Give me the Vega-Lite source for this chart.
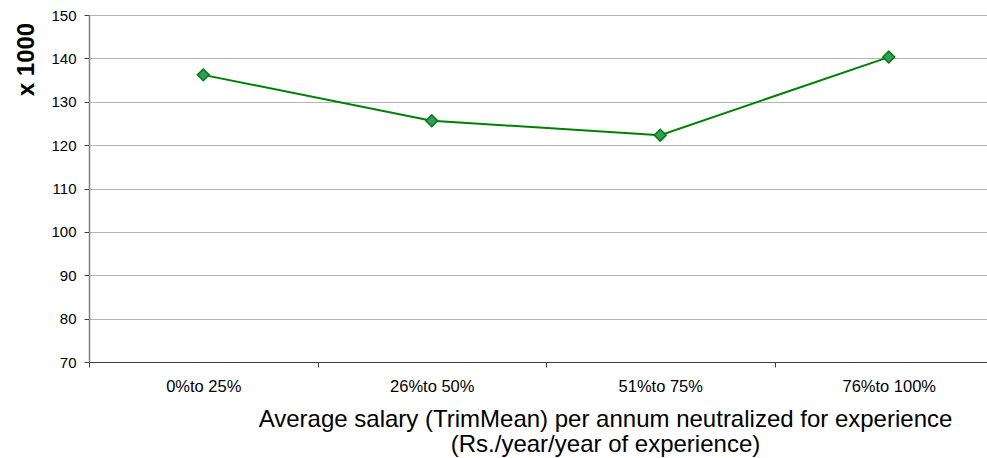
{
  "$schema": "https://vega.github.io/schema/vega-lite/v6.json",
  "width": 898,
  "height": 347,
  "autosize": {"type": "none"},
  "padding": {"left": 89, "top": 15, "right": 0, "bottom": 96},
  "background": "white",
  "config": {
    "view": {"stroke": null},
    "font": "Liberation Sans"
  },
  "data": {
    "values": [
      {"group": "0%to 25%", "salary": 136.2},
      {"group": "26%to 50%", "salary": 125.6},
      {"group": "51%to 75%", "salary": 122.3},
      {"group": "76%to 100%", "salary": 140.3}
    ]
  },
  "encoding": {
    "x": {
      "field": "group",
      "type": "nominal",
      "sort": null,
      "scale": {"type": "band", "range": [0, 914], "paddingInner": 0, "paddingOuter": 0},
      "axis": {
        "title": ["Average salary (TrimMean) per annum neutralized for experience", "(Rs./year/year of experience)"],
        "titleFont": "Liberation Sans",
        "titleFontSize": 24,
        "titleFontWeight": "normal",
        "titleColor": "#000000",
        "titleX": 516,
        "titleY": 64,
        "titleAlign": "center",
        "titleBaseline": "alphabetic",
        "titleLineHeight": 25,
        "labelAngle": 0,
        "labelFontSize": 16.5,
        "labelColor": "#000000",
        "labelPadding": 11,
        "tickBand": "extent",
        "tickSize": 5,
        "tickColor": "#404040",
        "domainColor": "#404040",
        "domainWidth": 1.2,
        "grid": false
      }
    },
    "y": {
      "field": "salary",
      "type": "quantitative",
      "scale": {"domain": [70, 150], "nice": false, "zero": false},
      "axis": {
        "title": "x 1000",
        "titleFont": "Liberation Sans",
        "titleFontSize": 24,
        "titleFontWeight": "bold",
        "titleColor": "#000000",
        "titleAngle": -90,
        "titleX": -63,
        "titleY": 44,
        "titleAlign": "center",
        "titleBaseline": "middle",
        "values": [70, 80, 90, 100, 110, 120, 130, 140, 150],
        "labelFontSize": 15,
        "labelColor": "#000000",
        "labelPadding": 8,
        "tickSize": 5,
        "tickColor": "#404040",
        "domainColor": "#808080",
        "domainWidth": 1.5,
        "grid": true,
        "gridColor": "#b4b4b4",
        "gridWidth": 1
      }
    }
  },
  "layer": [
    {
      "mark": {"type": "line", "color": "#008000", "strokeWidth": 2}
    },
    {
      "mark": {"type": "point", "shape": "diamond", "filled": true, "fill": "#339966", "stroke": "#008000", "strokeWidth": 1.5, "size": 140, "opacity": 1}
    }
  ]
}
